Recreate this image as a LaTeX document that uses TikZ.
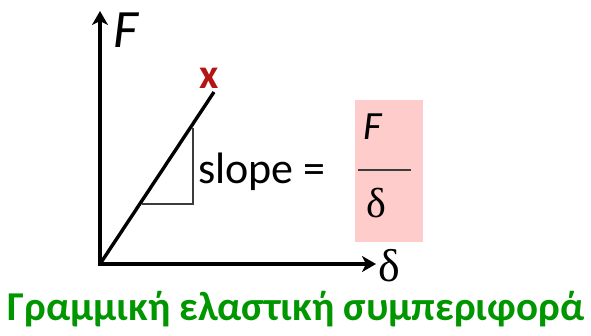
\documentclass[tikz,border=0pt]{standalone}
\usepackage{fontspec}
\setmainfont{Carlito}
\newfontfamily\greekserif{Liberation Serif}
\usetikzlibrary{arrows.meta,positioning}
\definecolor{boxpink}{RGB}{255,204,204}
\definecolor{titlegreen}{RGB}{0,150,0}
\definecolor{markred}{RGB}{180,20,20}
\definecolor{legtgray}{RGB}{60,60,60}

\begin{document}
\begin{tikzpicture}[x=1pt,y=-1pt,
    axis/.style={line width=3.4pt,{Stealth[length=14pt,width=16pt,inset=4pt]}-{Stealth[length=14pt,width=16pt,inset=4pt]}},
    curve/.style={line width=3.4pt},
    slopeleg/.style={line width=1.3pt,legtgray}]
    \useasboundingbox (0,0) rectangle (591,335);

    % Axes
    \coordinate (O) at (100,264);
    \coordinate (ytip) at (100,11);
    \coordinate (xtip) at (376,264);
    \draw[axis] (ytip) -- (O) -- (xtip);
    \node[anchor=base west,inner sep=0pt,font=\fontsize{54}{54}\selectfont\itshape] (Flab) at (113,47) {F};
    \node[anchor=base west,inner sep=0pt,font=\fontsize{46}{46}\selectfont\greekserif] (dlab) at (378,281) {δ};

    % Linear branch up to failure
    \coordinate (P) at (214,92);
    \draw[curve] (O) -- (P);
    \node[markred,inner sep=0pt,font=\fontsize{42}{42}\selectfont\bfseries] (fail) at (209,78) {x};

    % Slope triangle
    \coordinate (T1) at (193,128);
    \coordinate (T2) at (193,204);
    \coordinate (T3) at (142,204);
    \draw[slopeleg] (T1) -- (T2) -- (T3);

    % Slope label with F/delta box
    \node[anchor=base west,inner sep=0pt,font=\fontsize{44}{44}\selectfont] (slope) at (198,183) {slope =};
    \fill[boxpink] (355,100) rectangle (423,242);
    \coordinate (barL) at (358,170);
    \coordinate (barR) at (411,170);
    \draw[line width=1.3pt,legtgray] (barL) -- (barR);
    \node[anchor=base west,inner sep=0pt,font=\fontsize{40}{40}\selectfont\itshape] (Fnum) at (363,139) {F};
    \node[anchor=base west,inner sep=0pt,font=\fontsize{42}{42}\selectfont\greekserif] (dden) at (366,217) {δ};

    % Title
    \node[anchor=base,inner sep=0pt,titlegreen,font=\fontsize{41}{41}\selectfont\bfseries] (title) at (296,320) {Γραμμική ελαστική συμπεριφορά};
\end{tikzpicture}
\end{document}
